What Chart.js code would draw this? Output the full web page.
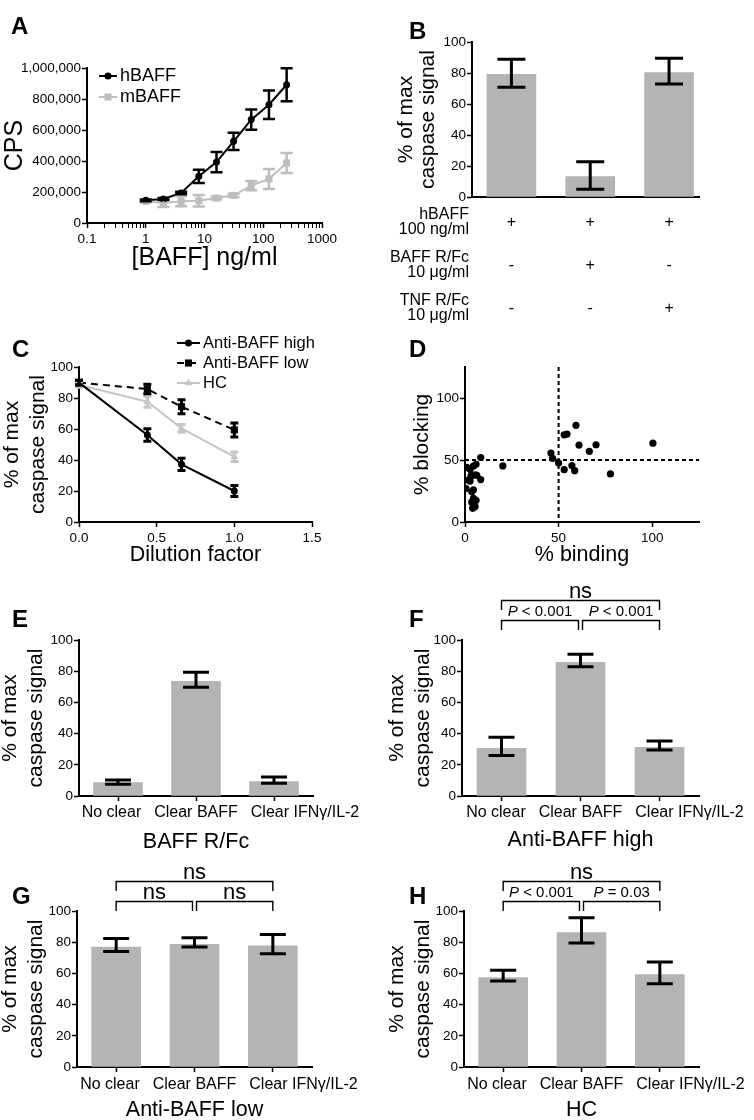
<!DOCTYPE html>
<html>
<head>
<meta charset="utf-8">
<script src="https://cdn.jsdelivr.net/npm/chart.js@4/dist/chart.umd.min.js"></script>
<style>
  body { margin: 0; background: #fff; }
  #fig { position: relative; width: 754px; height: 1120px; font-family: "Liberation Sans", Arial, Helvetica, sans-serif; }
  #fig canvas { position: absolute; left: 0; top: 0; }
  .pl { position: absolute; font-size: 24px; line-height: 24px; font-weight: bold; color: #000; }
</style>
</head>
<body>
<div id="fig">
  <canvas id="cA" width="754" height="1120"></canvas>
  <canvas id="cB" width="754" height="1120"></canvas>
  <canvas id="cC" width="754" height="1120"></canvas>
  <canvas id="cD" width="754" height="1120"></canvas>
  <canvas id="cE" width="754" height="1120"></canvas>
  <canvas id="cF" width="754" height="1120"></canvas>
  <canvas id="cG" width="754" height="1120"></canvas>
  <canvas id="cH" width="754" height="1120"></canvas>
  <div class="pl" style="left:11px;top:14px">A</div>
  <div class="pl" style="left:409px;top:19px">B</div>
  <div class="pl" style="left:12px;top:337px">C</div>
  <div class="pl" style="left:409px;top:337px">D</div>
  <div class="pl" style="left:12px;top:607px">E</div>
  <div class="pl" style="left:409px;top:607px">F</div>
  <div class="pl" style="left:12px;top:884px">G</div>
  <div class="pl" style="left:409px;top:884px">H</div>
</div>
<script>
// ---------- data ----------
// A: signal (CPS) vs BAFF concentration
const concA = [1, 2, 4, 8, 16, 31.25, 62.5, 125, 250];
const hBAFF = [146000, 155000, 194000, 301000, 393000, 527000, 667000, 763000, 892000];
const hBAFFsem = [6000, 6000, 8000, 43000, 65000, 56000, 65000, 92000, 107000];
const mBAFF = [140000, 129000, 140000, 144000, 161000, 178000, 241000, 284000, 387000];
const mBAFFsem = [8000, 26000, 32000, 37000, 10000, 10000, 30000, 65000, 65000];
const tickMajorA = [0.1, 1, 10, 100, 1000];

// B: % of max caspase signal with blockers
const valsB = [79.2, 13.1, 80.2];
const lowB = [70.8, 5.0, 72.9];
const highB = [88.8, 22.8, 89.5];
const rowsB = [['hBAFF', '100 ng/ml'], ['BAFF R/Fc', '10 μg/ml'], ['TNF R/Fc', '10 μg/ml']];
const signsB = [['+', '+', '+'], ['-', '+', '-'], ['-', '-', '+']];

// C: dilution series
const seriesC = ['Anti-BAFF high', 'Anti-BAFF low', 'HC'];
const dilutionC = [0, 0.44, 0.66, 1.0];
const highC = [89.9, 56.1, 37.2, 20.0];
const highCsem = [1.5, 4, 4, 3.5];
const lowC = [89.9, 85.8, 74.4, 59.4];
const lowCsem = [1.5, 3, 4.5, 4.5];
const hcC = [88.4, 77.6, 60.4, 42.1];
const hcCsem = [1.5, 3.5, 2.5, 3];

// D: % binding vs % blocking
const bindingD = [0.5, 0.9, 2.7, 4.5, 5.9, 8.4, 1.8, 3.6, 6.3, 8.4, 3.2, 5.4, 2.7, 4.5, 3.6, 4.5, 3.6, 5.9, 4.8, 5.4, 4.1,
  20.2, 45.9, 46.8, 50, 53, 54.5, 59.3, 60.9, 53, 57.1, 58.6, 66.4, 70, 77.7, 100.4];
const blockingD = [27, 44, 42.5, 45, 46.5, 52, 33.7, 37.7, 37.7, 34.2, 37, 38, 33, 26, 24.3, 19, 16, 17.5, 13, 12.4, 11,
  45.2, 55.6, 51.3, 47.6, 70.3, 70.9, 78, 62, 42.2, 45.5, 41.4, 57, 62.3, 38.8, 63.6];

// E-H: clearing experiments
const clearCats = ['No clear', 'Clear BAFF', 'Clear IFNγ/IL-2'];
const valsE = [8.6, 73.5, 9.3], lowE = [7.5, 69.7, 8.1], highE = [10.3, 79.3, 12.2];
const valsF = [30.6, 85.7, 31.2], lowF = [25.9, 82.9, 29.5], highF = [37.6, 90.8, 35.3];
const valsG = [76.9, 78.6, 77.6], lowG = [74.1, 76.9, 72.6], highG = [82.3, 82.9, 85.0];
const valsH = [57.3, 86.1, 59.2], lowH = [55.1, 79.5, 53.4], highH = [62.0, 95.7, 67.3];
const sigF = [[0, 1, 'P < 0.001'], [1, 2, 'P < 0.001'], [0, 2, 'ns']];
const sigG = [[0, 1, 'ns'], [1, 2, 'ns'], [0, 2, 'ns']];
const sigH = [[0, 1, 'P < 0.001'], [1, 2, 'P = 0.03'], [0, 2, 'ns']];

// ---------- setup ----------
const FONT = '"Liberation Sans", Arial, Helvetica, sans-serif';
Chart.defaults.font.family = FONT;
Chart.defaults.color = '#000';
Chart.defaults.animation = false;
Chart.defaults.responsive = false;
Chart.defaults.devicePixelRatio = 1;
Chart.defaults.plugins.legend.display = false;
Chart.defaults.plugins.tooltip.enabled = false;

const GRAY_BAR = '#b4b4b4';
const GRAY_A = '#bdbdbd';
const GRAY_C = '#c6c6c6';
const pctTitle = ['% of max', 'caspase signal'];

// log ticks for panel A (majors labelled, minors unlabelled)
const logTicksA = [];
[-1, 0, 1, 2].forEach(e => { for (let k = 1; k <= 9; k++) logTicksA.push(Number((k * Math.pow(10, e)).toPrecision(3))); });
logTicksA.push(1000);

function pad(L, T, R, B, padL, H) {
  return { padding: { left: padL, top: T, right: 754 - R, bottom: 1120 - B - H } };
}

function yAxis(o) {
  return {
    type: 'linear',
    min: o.min, max: o.max,
    afterFit: s => { s.width = o.W; },
    border: { color: '#000', width: 2 },
    grid: { drawOnChartArea: false, tickColor: '#000', tickLength: 5, tickWidth: 1.5 },
    ticks: { stepSize: o.step, includeBounds: false, color: '#000', font: { size: 13.5 }, padding: 1, callback: o.fmt },
    title: { display: true, text: o.title, color: '#000', font: { size: o.size || 21, lineHeight: o.lh || 1.25 }, padding: { top: o.tpad, bottom: 0 } }
  };
}

function xAxis(o) {
  const ax = {
    type: o.type || 'linear',
    afterFit: s => { s.height = o.H; },
    border: { color: '#000', width: 2 },
    grid: { drawOnChartArea: false, offset: false, drawTicks: !o.noTicks, tickColor: '#000', tickLength: 5, tickWidth: o.tickW || 1.5 },
    ticks: { display: o.labels !== false, includeBounds: false, autoSkip: false, maxRotation: 0, minRotation: 0,
      color: '#000', font: { size: 13.5 }, padding: 3 },
    title: o.title ? { display: true, text: o.title, color: '#000', font: { size: o.size || 21.5, lineHeight: 1.2 }, padding: 0 } : { display: false }
  };
  if (o.min !== undefined) ax.min = o.min;
  if (o.max !== undefined) ax.max = o.max;
  if (o.offset !== undefined) ax.offset = o.offset;
  if (o.step !== undefined) ax.ticks.stepSize = o.step;
  if (o.fmt) ax.ticks.callback = o.fmt;
  if (o.ticksAt) ax.afterBuildTicks = s => { s.ticks = o.ticksAt.map(v => ({ value: v })); };
  return ax;
}

function lineSet(label, xs, ys, sem, color, style, r, dash, capW, errW) {
  return {
    label, data: xs.map((x, i) => ({ x, y: ys[i] })),
    borderColor: color, backgroundColor: color, borderWidth: 2, borderDash: dash,
    pointStyle: style, pointRadius: r, pointHoverRadius: r, pointBackgroundColor: color, pointBorderWidth: 0,
    tension: 0, err: ys.map((y, i) => [y - sem[i], y + sem[i]]), capW, errW, errColor: color
  };
}

function barSet(vals, lo, hi, capW) {
  return { data: vals, backgroundColor: GRAY_BAR, barThickness: 49, err: vals.map((v, i) => [lo[i], hi[i]]), capW: capW || 26, errW: 3, errColor: '#000' };
}

function marker(ctx, style, x, y, r, color) {
  ctx.fillStyle = color;
  ctx.beginPath();
  if (style === 'rect') {
    const s = r * Math.SQRT1_2;
    ctx.rect(x - s, y - s, 2 * s, 2 * s);
  } else if (style === 'triangle') {
    let a = 0;
    ctx.moveTo(x + Math.sin(a) * r, y - Math.cos(a) * r);
    a += 2 * Math.PI / 3; ctx.lineTo(x + Math.sin(a) * r, y - Math.cos(a) * r);
    a += 2 * Math.PI / 3; ctx.lineTo(x + Math.sin(a) * r, y - Math.cos(a) * r);
    ctx.closePath();
  } else {
    ctx.arc(x, y, r, 0, Math.PI * 2);
  }
  ctx.fill();
}

// ---------- plugins ----------
const errPlugin = {
  id: 'errBars',
  afterDatasetsDraw(chart) {
    const ctx = chart.ctx;
    const sets = chart.data.datasets;
    for (let di = sets.length - 1; di >= 0; di--) {
      const ds = sets[di];
      if (!ds.err) continue;
      const meta = chart.getDatasetMeta(di);
      const ys = chart.scales[meta.yAxisID];
      ctx.save();
      ctx.strokeStyle = ds.errColor;
      ctx.lineWidth = ds.errW;
      ds.err.forEach((e, i) => {
        const pt = meta.data[i];
        if (!pt) return;
        const x = pt.x, y1 = ys.getPixelForValue(e[0]), y2 = ys.getPixelForValue(e[1]), h = ds.capW / 2;
        ctx.beginPath();
        ctx.moveTo(x, y1); ctx.lineTo(x, y2);
        ctx.moveTo(x - h, y1); ctx.lineTo(x + h, y1);
        ctx.moveTo(x - h, y2); ctx.lineTo(x + h, y2);
        ctx.stroke();
      });
      ctx.restore();
    }
  }
};

function legendPlugin(x, y, dy, len, size) {
  return {
    id: 'legendBox',
    afterDraw(chart) {
      const ctx = chart.ctx;
      ctx.save();
      chart.data.datasets.forEach((ds, i) => {
        const yy = y + i * dy;
        ctx.strokeStyle = ds.borderColor;
        ctx.lineWidth = 2;
        ctx.setLineDash(ds.borderDash || []);
        ctx.beginPath(); ctx.moveTo(x, yy); ctx.lineTo(x + len, yy); ctx.stroke();
        ctx.setLineDash([]);
        marker(ctx, ds.pointStyle, x + len / 2, yy, ds.pointRadius, ds.borderColor);
        ctx.fillStyle = '#000';
        ctx.font = size + 'px ' + FONT;
        ctx.textBaseline = 'middle';
        ctx.textAlign = 'left';
        ctx.fillText(ds.label, x + len + 3, yy);
      });
      ctx.restore();
    }
  };
}

function catLabelPlugin(y, size, gap) {
  return {
    id: 'catLabels',
    afterDraw(chart) {
      const ctx = chart.ctx, xs = chart.scales.x, labels = chart.data.labels;
      ctx.save();
      ctx.font = size + 'px ' + FONT;
      ctx.fillStyle = '#000';
      ctx.textBaseline = 'middle';
      ctx.textAlign = 'left';
      const w = labels.map(t => ctx.measureText(t).width);
      const left = labels.map((t, i) => xs.getPixelForValue(i) - w[i] / 2);
      const mid = Math.floor(labels.length / 2);
      for (let i = mid + 1; i < labels.length; i++) left[i] = Math.max(left[i], left[i - 1] + w[i - 1] + gap);
      for (let i = mid - 1; i >= 0; i--) left[i] = Math.min(left[i], left[i + 1] - gap - w[i]);
      labels.forEach((t, i) => ctx.fillText(t, left[i], y));
      ctx.restore();
    }
  };
}

function sigText(ctx, text, cx, base) {
  ctx.textBaseline = 'alphabetic';
  ctx.textAlign = 'left';
  if (text === 'ns') {
    ctx.font = '22px ' + FONT;
    ctx.fillText(text, cx - ctx.measureText(text).width / 2, base);
    return;
  }
  const head = text.slice(0, 1), rest = text.slice(1);
  const fi = 'italic 15px ' + FONT, fn = '15px ' + FONT;
  ctx.font = fi; const w1 = ctx.measureText(head).width;
  ctx.font = fn; const w2 = ctx.measureText(rest).width;
  const x0 = cx - (w1 + w2) / 2;
  ctx.font = fi; ctx.fillText(head, x0, base);
  ctx.font = fn; ctx.fillText(rest, x0 + w1, base);
}

function bracketPlugin(items, lift) {
  return {
    id: 'brackets',
    afterDraw(chart) {
      const ctx = chart.ctx, xs = chart.scales.x, base0 = chart.chartArea.top - lift;
      ctx.save();
      ctx.strokeStyle = '#000';
      ctx.fillStyle = '#000';
      ctx.lineWidth = 1.4;
      items.forEach(([from, to, text]) => {
        const level = to - from - 1;
        const base = base0 - level * 20, yh = base - 9.5;
        const x1 = xs.getPixelForValue(from) + (level === 0 && from === 1 ? 2 : 0);
        const x2 = xs.getPixelForValue(to) - (level === 0 && to === 1 ? 2 : 0);
        ctx.beginPath();
        ctx.moveTo(x1, base); ctx.lineTo(x1, yh); ctx.lineTo(x2, yh); ctx.lineTo(x2, base);
        ctx.stroke();
        sigText(ctx, text, (x1 + x2) / 2, yh - (text === 'ns' ? 3 : 5));
      });
      ctx.restore();
    }
  };
}

function tablePlugin(rows, signs, first, step, line, size) {
  return {
    id: 'rowTable',
    afterDraw(chart) {
      const ctx = chart.ctx, xs = chart.scales.x, area = chart.chartArea;
      ctx.save();
      ctx.fillStyle = '#000';
      ctx.font = size + 'px ' + FONT;
      ctx.textBaseline = 'middle';
      rows.forEach((lines, r) => {
        const y0 = area.bottom + first + r * step;
        ctx.textAlign = 'right';
        lines.forEach((t, k) => ctx.fillText(t, area.left - 3, y0 + k * line));
        ctx.textAlign = 'center';
        signs[r].forEach((s, i) => ctx.fillText(s, xs.getPixelForValue(i), y0 + line / 2));
      });
      ctx.restore();
    }
  };
}

function refLinePlugin(xv, yv) {
  return {
    id: 'refLines',
    beforeDatasetsDraw(chart) {
      const ctx = chart.ctx, xs = chart.scales.x, ys = chart.scales.y, a = chart.chartArea;
      ctx.save();
      ctx.strokeStyle = '#000';
      ctx.lineWidth = 2;
      ctx.setLineDash([4, 3]);
      ctx.beginPath();
      ctx.moveTo(xs.getPixelForValue(xv), a.top); ctx.lineTo(xs.getPixelForValue(xv), a.bottom);
      ctx.moveTo(a.left, ys.getPixelForValue(yv)); ctx.lineTo(a.right, ys.getPixelForValue(yv));
      ctx.stroke();
      ctx.restore();
    }
  };
}

// ---------- panel A ----------
new Chart(document.getElementById('cA'), {
  type: 'line',
  data: {
    datasets: [
      lineSet('hBAFF', concA, hBAFF, hBAFFsem, '#000', 'circle', 3.5, [], 12, 2.5),
      lineSet('mBAFF', concA, mBAFF, mBAFFsem, GRAY_A, 'rect', 5, [], 12, 2.5)
    ]
  },
  options: {
    layout: pad(87, 68, 322, 223, 0, 50),
    scales: {
      x: xAxis({ type: 'logarithmic', min: 0.1, max: 1000, H: 50, ticksAt: logTicksA, title: '[BAFF] ng/ml', size: 25,
        fmt: v => tickMajorA.includes(v) ? String(v) : '',
        tickW: c => (c.tick && tickMajorA.includes(c.tick.value)) ? 1.5 : 1 }),
      y: yAxis({ min: 0, max: 1000000, step: 200000, W: 87, title: 'CPS', size: 25, lh: 1.2, tpad: 0,
        fmt: v => v.toLocaleString('en-US') })
    }
  },
  plugins: [errPlugin, legendPlugin(99, 76, 21, 18, 18)]
});

// ---------- panel B ----------
new Chart(document.getElementById('cB'), {
  type: 'bar',
  data: {
    datasets: [Object.assign(barSet(valsB, lowB, highB, 28), { data: valsB.map((v, i) => ({ x: i, y: v })) })]
  },
  options: {
    layout: pad(472, 42, 699, 197, 380, 0),
    scales: {
      x: xAxis({ min: -0.5, max: 2.38, H: 0, labels: false, noTicks: true, offset: false }),
      y: yAxis({ min: 0, max: 100, step: 20, W: 92, title: pctTitle, lh: 1.05, tpad: 15 })
    }
  },
  plugins: [errPlugin, tablePlugin(rowsB, signsB, 18, 43, 14.5, 16)]
});

// ---------- panel C ----------
new Chart(document.getElementById('cC'), {
  type: 'line',
  data: {
    datasets: [
      lineSet(seriesC[0], dilutionC, highC, highCsem, '#000', 'circle', 3.5, [], 8, 3),
      lineSet(seriesC[1], dilutionC, lowC, lowCsem, '#000', 'rect', 5, [7, 5], 8, 3),
      lineSet(seriesC[2], dilutionC, hcC, hcCsem, GRAY_C, 'triangle', 4.5, [], 8, 3)
    ]
  },
  options: {
    layout: pad(79, 367, 312, 522, 0, 45.9),
    scales: {
      x: xAxis({ min: 0, max: 1.5, step: 0.5, H: 45.9, title: 'Dilution factor', fmt: v => Number(v).toFixed(1) }),
      y: yAxis({ min: 0, max: 100, step: 20, W: 79, title: pctTitle, lh: 1.24, tpad: -1 })
    }
  },
  plugins: [errPlugin, legendPlugin(177, 343, 20, 23, 16.5)]
});

// ---------- panel D ----------
new Chart(document.getElementById('cD'), {
  type: 'scatter',
  data: {
    datasets: [{ data: bindingD.map((x, i) => ({ x, y: blockingD[i] })), pointRadius: 3.6, pointHoverRadius: 3.6,
      backgroundColor: '#000', borderWidth: 0 }]
  },
  options: {
    layout: pad(465, 367, 699, 522, 380, 45.9),
    scales: {
      x: xAxis({ min: 0, max: 125, step: 50, H: 45.9, title: '% binding' }),
      y: yAxis({ min: 0, max: 125, step: 50, W: 85, title: '% blocking', lh: 1.2, tpad: 29.4 })
    }
  },
  plugins: [refLinePlugin(50, 50)]
});

// ---------- panels E-H ----------
function clearPanel(id, L, T, R, B, padL, H, titleX, tpad, vals, lo, hi, labelY, sig, lift) {
  const plugins = [errPlugin, catLabelPlugin(labelY, 16, 13)];
  if (sig) plugins.push(bracketPlugin(sig, lift));
  new Chart(document.getElementById(id), {
    type: 'bar',
    data: { labels: clearCats, datasets: [barSet(vals, lo, hi)] },
    options: {
      layout: pad(L, T, R, B, padL, H),
      scales: {
        x: xAxis({ type: 'category', H: H, labels: false, title: titleX, offset: true }),
        y: yAxis({ min: 0, max: 100, step: 20, W: L - padL, title: pctTitle, lh: 1.25, tpad: tpad })
      }
    },
    plugins: plugins
  });
}

clearPanel('cE', 79, 640, 313, 796, 0, 58.9, 'BAFF R/Fc', -3, valsE, lowE, highE, 813, null, 0);
clearPanel('cF', 462, 640, 699, 796, 380, 56.9, 'Anti-BAFF high', 4, valsF, lowF, highF, 813, sigF, 10);
clearPanel('cG', 77, 911, 312, 1067, 0, 55.9, 'Anti-BAFF low', -3, valsG, lowG, highG, 1085, sigG, 0);
clearPanel('cH', 464, 911, 699, 1067, 380, 55.9, 'HC', 4, valsH, lowH, highH, 1085, sigH, 0);
</script>
</body>
</html>
